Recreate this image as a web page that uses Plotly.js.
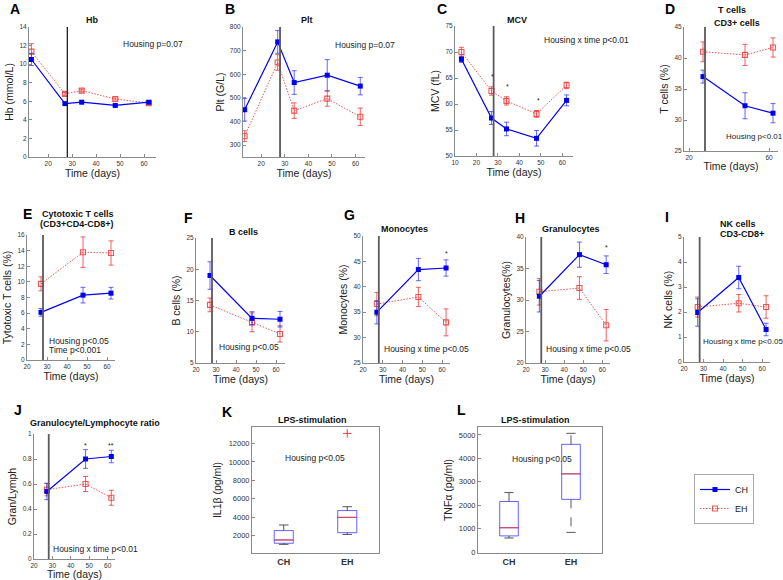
<!DOCTYPE html>
<html><head><meta charset="utf-8">
<script src="https://cdn.plot.ly/plotly-3.0.1.min.js"></script>
<style>html,body{margin:0;padding:0;background:#fff}#chart{width:783px;height:580px}</style>
</head><body><div id="chart"></div>
<script>
// ---------------- DATA ----------------
const timeFull = [13, 27, 34, 48, 62];
const timeLate = [27, 48, 62];
const housingChangeDay = 28;

const hbCH = [10.5, 5.75, 5.9, 5.55, 5.9];
const hbCHerr = [0.65, 0.12, 0.12, 0.12, 0.12];
const hbEH = [11.35, 6.8, 7.15, 6.25, 5.8];
const hbEHerr = [0.85, 0.15, 0.15, 0.12, 0.12];

const pltCH = [450, 737, 565, 596, 550];
const pltCHerr = [48, 48, 50, 66, 37];
const pltEH = [338, 650, 446, 497, 420];
const pltEHerr = [23, 33, 33, 32, 37];

const mcvCH = [68.6, 57.3, 55.2, 53.4, 60.7];
const mcvCHerr = [0.6, 1.25, 1.3, 1.5, 1.05];
const mcvEH = [70.0, 62.5, 60.6, 58.1, 63.6];
const mcvEHerr = [0.9, 0.8, 0.8, 0.65, 0.6];
const mcvStarX = [27.5, 34.5, 48.7];
const mcvStarY = [65.3, 63.3, 60.7];

const tcCH = [37.0, 32.3, 31.1];
const tcCHerr = [1.05, 2.1, 1.55];
const tcEH = [41.0, 40.5, 41.7];
const tcEHerr = [1.6, 1.7, 1.55];

const ctlCH = [6.1, 8.3, 8.55];
const ctlCHerr = [0.5, 1.0, 0.75];
const ctlEH = [9.75, 13.8, 13.7];
const ctlEHerr = [0.9, 1.95, 1.55];

const bcCH = [19.0, 12.15, 12.0];
const bcCHerr = [2.2, 1.05, 1.25];
const bcEH = [14.3, 11.5, 9.65];
const bcEHerr = [1.1, 1.5, 1.3];

const monoCH = [35.0, 43.4, 43.7];
const monoCHerr = [2.3, 2.2, 1.6];
const monoEH = [36.6, 38.0, 33.0];
const monoEHerr = [2.3, 1.9, 2.65];
const monoStarX = [62]; const monoStarY = [46.6];

const granCH = [30.6, 37.2, 35.6];
const granCHerr = [2.5, 2.0, 1.4];
const granEH = [31.3, 31.9, 26.0];
const granEHerr = [2.1, 1.8, 2.5];
const granStarX = [62]; const granStarY = [38.3];

const nkCH = [1.98, 3.38, 1.3];
const nkCHerr = [0.55, 0.45, 0.25];
const nkEH = [2.2, 2.35, 2.2];
const nkEHerr = [0.4, 0.35, 0.45];

const glCH = [0.54, 0.80, 0.82];
const glCHerr = [0.065, 0.075, 0.05];
const glEH = [0.555, 0.60, 0.49];
const glEHerr = [0.05, 0.06, 0.06];
const glStarX = [48, 62]; const glStarY = [0.91, 0.91]; const glStarText = ['*', '**'];

const boxGroups = ['CH', 'EH'];
const boxPos = [1, 2];
const il1bLower = [1020, 2100];
const il1bQ1 = [1140, 2290];
const il1bMedian = [1500, 3960];
const il1bQ3 = [2520, 4700];
const il1bUpper = [3130, 5120];
const il1bOutX = [2];
const il1bOutY = [13100];

const tnfLower = [600, 840];
const tnfQ1 = [690, 2250];
const tnfMedian = [1040, 3340];
const tnfQ3 = [2160, 4600];
const tnfUpper = [2540, 5070];

// ---------------- LAYOUT HELPERS ----------------
const W = 783, H = 580;
const FONT = 'Liberation Sans, Arial, Helvetica, sans-serif';
const BLUE = '#0000f0', BLUE_ERR = 'rgba(40,40,255,0.7)';
const RED = 'rgba(235,45,45,0.8)', RED_ERR = 'rgba(235,45,45,0.75)';
const RED_DASH = '1.5px,1.5px';

// panel pixel boxes [left, right, top, bottom]
const panels = {
  A: {n: 1, box: [29, 156, 27, 157], xr: [12, 65], yr: [0, 14], dy: 2, yt: 'Hb (mmol/L)'},
  B: {n: 2, box: [243, 365, 27, 157], xr: [12.3, 64], yr: [250, 800], dy: 100, yt: 'Plt (G/L)'},
  C: {n: 3, box: [455, 573, 26, 156], xr: [10, 65], yr: [50, 75], dy: 5, yt: 'MCV (fL)'},
  D: {n: 4, box: [684, 778, 27, 151], xr: [17.5, 64.5], yr: [25, 45], dy: 5, yt: 'T cells (%)', xtv: [20, 60]},
  E: {n: 5, box: [27, 115, 235, 360], xr: [20, 64], yr: [0, 16], dy: 2, yt: 'Tytotoxic T cells (%)'},
  F: {n: 6, box: [196, 285, 238, 363], xr: [20, 64.5], yr: [5, 25], dy: 5, yt: 'B cells (%)'},
  G: {n: 7, box: [363, 450, 236, 363], xr: [20, 64], yr: [25, 50], dy: 5, yt: 'Monocytes (%)'},
  H: {n: 8, box: [526, 610, 237, 363], xr: [20, 64], yr: [20, 40], dy: 5, yt: 'Granulocytes(%)'},
  I: {n: 9, box: [684, 770, 237, 362], xr: [20, 64], yr: [0, 5], dy: 1, yt: 'NK cells (%)'},
  J: {n: 10, box: [34, 115, 434, 559], xr: [20, 64], yr: [0, 1], dy: 0.2, yt: 'Gran/Lymph', xst: 0},
  K: {n: 11, box: [252, 379, 427, 553], xr: [0.5, 2.5], yr: [80, 13800], yt: 'IL1\u03B2 (pg/ml)', isBox: true, ytv: [2000, 4000, 6000, 8000, 10000, 12000]},
  L: {n: 12, box: [478, 602, 427, 553], xr: [0.5, 2.5], yr: [-40, 5340], yt: 'TNF\u03B1 (pg/ml)', isBox: true, ytv: [0, 1000, 2000, 3000, 4000, 5000]}
};

const layout = {
  width: W, height: H, margin: {l: 0, r: 0, t: 0, b: 0},
  paper_bgcolor: '#fff', plot_bgcolor: 'rgba(0,0,0,0)',
  font: {family: FONT, color: '#222'},
  showlegend: true,
  legend: {x: 694 / W, y: 1 - 474 / H, xanchor: 'left', yanchor: 'top',
           bordercolor: '#aaa', borderwidth: 1, bgcolor: '#fff',
           font: {size: 9, family: FONT, color: '#222'}, itemwidth: 30, tracegroupgap: 0},
  shapes: [], annotations: []
};

const px = x => x / W;
const py = y => 1 - y / H;

Object.keys(panels).forEach(k => {
  const p = panels[k];
  const [l, r, t, b] = p.box;
  const sfx = p.n === 1 ? '' : String(p.n);
  const xa = {
    domain: [px(l), px(r)], range: p.xr, anchor: 'y' + sfx,
    showline: true, linecolor: '#8a8a8a', linewidth: 1, ticks: p.isBox ? '' : 'inside', ticklen: 3, tickcolor: '#8a8a8a',
    tickfont: {size: p.isBox ? 9 : 6.5, color: '#333', family: FONT, weight: p.isBox ? 'bold' : 'normal'},
    showgrid: false, zeroline: false, fixedrange: true, mirror: p.isBox ? true : false,
    title: p.isBox ? {text: ''} : {text: 'Time (days)', font: {size: 10.5, color: '#222', family: FONT}, standoff: p.xst !== undefined ? p.xst : 2}
  };
  if (p.isBox) { xa.tickvals = boxPos; xa.ticktext = boxGroups; }
  else if (p.xtv) { xa.tickvals = p.xtv; }
  else { xa.tick0 = 20; xa.dtick = 10; }
  const ya = {
    domain: [py(b), py(t)], range: p.yr, anchor: 'x' + sfx,
    showline: true, linecolor: '#8a8a8a', linewidth: 1, ticks: 'inside', ticklen: 3, tickcolor: '#8a8a8a',
    tickfont: {size: p.isBox ? 7.5 : 6.5, color: '#333', family: FONT},
    showgrid: false, zeroline: false, fixedrange: true, mirror: p.isBox ? true : false,
    exponentformat: 'none', separatethousands: false, tickformat: p.isBox ? 'd' : '',
    title: {text: p.yt, font: {size: 10.5, color: '#222', family: FONT}, standoff: p.isBox ? 4 : 3}
  };
  if (p.ytv) ya.tickvals = p.ytv; else { ya.tick0 = p.yr[0]; ya.dtick = p.dy; }
  if (k === 'B') { ya.tick0 = 300; }
  layout['xaxis' + sfx] = xa;
  layout['yaxis' + sfx] = ya;
  if (!p.isBox) {
    layout.shapes.push({type: 'line', xref: 'x' + sfx, yref: 'y' + sfx + ' domain',
      x0: housingChangeDay, x1: housingChangeDay, y0: 0, y1: 1,
      line: {color: k === 'A' ? '#222' : '#5a5a5a', width: k === 'A' ? 1.3 : 1.8}});
  }
  p.sfx = sfx;
});

const traces = [];
function addSeries(k, x, ch, chErr, eh, ehErr, legend) {
  const s = panels[k].sfx;
  traces.push({type: 'scatter', mode: 'lines+markers', x: x, y: eh, name: 'EH', legendgroup: 'EH', showlegend: false,
    xaxis: 'x' + s, yaxis: 'y' + s,
    line: {color: RED, width: 1, dash: RED_DASH},
    marker: {symbol: 'square-open', size: 5, color: RED, line: {width: 1.1, color: RED}},
    error_y: {type: 'data', array: ehErr, visible: true, color: RED_ERR, thickness: 1, width: 2.5}});
  traces.push({type: 'scatter', mode: 'lines+markers', x: x, y: ch, name: 'CH', legendgroup: 'CH', showlegend: legend,
    xaxis: 'x' + s, yaxis: 'y' + s,
    line: {color: BLUE, width: 1.2},
    marker: {symbol: 'square', size: 5, color: BLUE},
    error_y: {type: 'data', array: chErr, visible: true, color: BLUE_ERR, thickness: 1, width: 2.5}});
  if (legend) {
    traces.push({type: 'scatter', mode: 'lines+markers', x: [null], y: [null], name: 'EH', legendgroup: 'EH', showlegend: true,
      xaxis: 'x' + s, yaxis: 'y' + s,
      line: {color: RED, width: 1, dash: RED_DASH},
      marker: {symbol: 'square-open', size: 5, color: RED, line: {width: 1.1, color: RED}}});
  }
}
addSeries('A', timeFull, hbCH, hbCHerr, hbEH, hbEHerr, true);
addSeries('B', timeFull, pltCH, pltCHerr, pltEH, pltEHerr, false);
addSeries('C', timeFull, mcvCH, mcvCHerr, mcvEH, mcvEHerr, false);
addSeries('D', timeLate, tcCH, tcCHerr, tcEH, tcEHerr, false);
addSeries('E', timeLate, ctlCH, ctlCHerr, ctlEH, ctlEHerr, false);
addSeries('F', timeLate, bcCH, bcCHerr, bcEH, bcEHerr, false);
addSeries('G', timeLate, monoCH, monoCHerr, monoEH, monoEHerr, false);
addSeries('H', timeLate, granCH, granCHerr, granEH, granEHerr, false);
addSeries('I', timeLate, nkCH, nkCHerr, nkEH, nkEHerr, false);
addSeries('J', timeLate, glCH, glCHerr, glEH, glEHerr, false);

// box plots
const BOX_HALF = 0.15, CAP_HALF = 0.075;
function addBox(k, lower, q1, med, q3, upper) {
  const s = panels[k].sfx;
  traces.push({type: 'box', x: boxPos, q1: q1, median: med, q3: q3, lowerfence: q1, upperfence: q3,
    width: 2 * BOX_HALF, boxpoints: false, showlegend: false, whiskerwidth: 0,
    line: {color: 'rgba(60,60,255,0.8)', width: 1}, fillcolor: 'rgba(0,0,0,0)',
    xaxis: 'x' + s, yaxis: 'y' + s, hoverinfo: 'skip'});
  const wx = [], wy = [], cx = [], cy = [], mx = [], my = [];
  boxPos.forEach((pos, i) => {
    wx.push(pos, pos, null, pos, pos, null);
    wy.push(q3[i], upper[i], null, q1[i], lower[i], null);
    cx.push(pos - CAP_HALF, pos + CAP_HALF, null, pos - CAP_HALF, pos + CAP_HALF, null);
    cy.push(upper[i], upper[i], null, lower[i], lower[i], null);
    mx.push(pos - BOX_HALF, pos + BOX_HALF, null);
    my.push(med[i], med[i], null);
  });
  traces.push({type: 'scatter', mode: 'lines', x: wx, y: wy, showlegend: false, xaxis: 'x' + s, yaxis: 'y' + s,
    line: {color: '#444', width: 0.9, dash: 'dash'}, hoverinfo: 'skip'});
  traces.push({type: 'scatter', mode: 'lines', x: cx, y: cy, showlegend: false, xaxis: 'x' + s, yaxis: 'y' + s,
    line: {color: '#444', width: 0.9}, hoverinfo: 'skip'});
  traces.push({type: 'scatter', mode: 'lines', x: mx, y: my, showlegend: false, xaxis: 'x' + s, yaxis: 'y' + s,
    line: {color: 'rgba(240,60,60,0.9)', width: 1.1}, hoverinfo: 'skip'});
}
addBox('K', il1bLower, il1bQ1, il1bMedian, il1bQ3, il1bUpper);
addBox('L', tnfLower, tnfQ1, tnfMedian, tnfQ3, tnfUpper);
traces.push({type: 'scatter', mode: 'markers', x: il1bOutX, y: il1bOutY, showlegend: false,
  xaxis: 'x' + panels.K.sfx, yaxis: 'y' + panels.K.sfx,
  marker: {symbol: 'cross-thin-open', size: 6, color: 'rgba(240,40,40,0.9)', line: {width: 1, color: 'rgba(240,40,40,0.9)'}}});

// ---------------- TEXT ----------------
function ann(text, x, y, opts) {
  layout.annotations.push(Object.assign({text: text, xref: 'paper', yref: 'paper', x: px(x), y: py(y),
    xanchor: 'left', yanchor: 'middle', showarrow: false, font: {size: 8.5, family: FONT, color: '#222'}}, opts || {}));
}
const letterFont = {size: 14, family: FONT, color: '#000', weight: 'bold'};
[['A', 8, 9], ['B', 223, 9], ['C', 435, 9], ['D', 663, 9], ['E', 21, 214], ['F', 182, 218], ['G', 342, 215],
 ['H', 513, 218], ['I', 663, 217], ['J', 12, 410], ['K', 220, 412], ['L', 455, 410]]
  .forEach(d => ann(d[0], d[1], d[2], {font: letterFont}));

const titleFont = {size: 9, family: FONT, color: '#111', weight: 'bold'};
[['Hb', 92, 20], ['Plt', 307, 20], ['MCV', 517, 20], ['T cells', 732, 10], ['CD3+ cells', 737, 23],
 ['Cytotoxic T cells', 78, 214], ['(CD3+CD4-CD8+)', 77, 224], ['B cells', 243, 232], ['Monocytes', 404, 229],
 ['Granulocytes', 571, 229], ['NK cells', 738, 224], ['CD3-CD8+', 742, 234],
 ['Granulocyte/Lymphocyte ratio', 95, 423], ['LPS-stimulation', 312, 420], ['LPS-stimulation', 535, 420]]
  .forEach(d => ann(d[0], d[1], d[2], {xanchor: 'center', font: titleFont}));

const smallFont = {size: 8, family: FONT, color: '#222'};
[['Housing p=0.07', 121, 44], ['Housing p=0.07', 333, 45], ['Housing x time p<0.01', 542, 40],
 ['Housing p<0.05', 47, 341], ['Time p<0.001', 47, 350],
 ['Housing p<0.05', 217, 347], ['Housing x time p<0.05', 382, 349], ['Housing x time p<0.05', 544, 349],
 ['Housing x time p<0.01', 51, 549],
 ['Housing p<0.05', 283, 458], ['Housing p<0.05', 510, 459]]
  .forEach(d => ann(d[0], d[1], d[2]));
ann('Housing p<0.01', 724, 136, {font: smallFont});
ann('Housing x time p<0.05', 701, 341, {font: smallFont});

function stars(k, xs, ys, txt) {
  const s = panels[k].sfx;
  xs.forEach((x, i) => layout.annotations.push({text: txt ? txt[i] : '*', x: x, y: ys[i], xref: 'x' + s, yref: 'y' + s,
    showarrow: false, xanchor: 'center', yanchor: 'middle', font: {size: 7, family: FONT, color: '#222'}}));
}
stars('C', mcvStarX, mcvStarY);
stars('G', monoStarX, monoStarY);
stars('H', granStarX, granStarY);
stars('J', glStarX, glStarY, glStarText);

Plotly.newPlot('chart', traces, layout, {staticPlot: true, displayModeBar: false});
</script></body></html>
